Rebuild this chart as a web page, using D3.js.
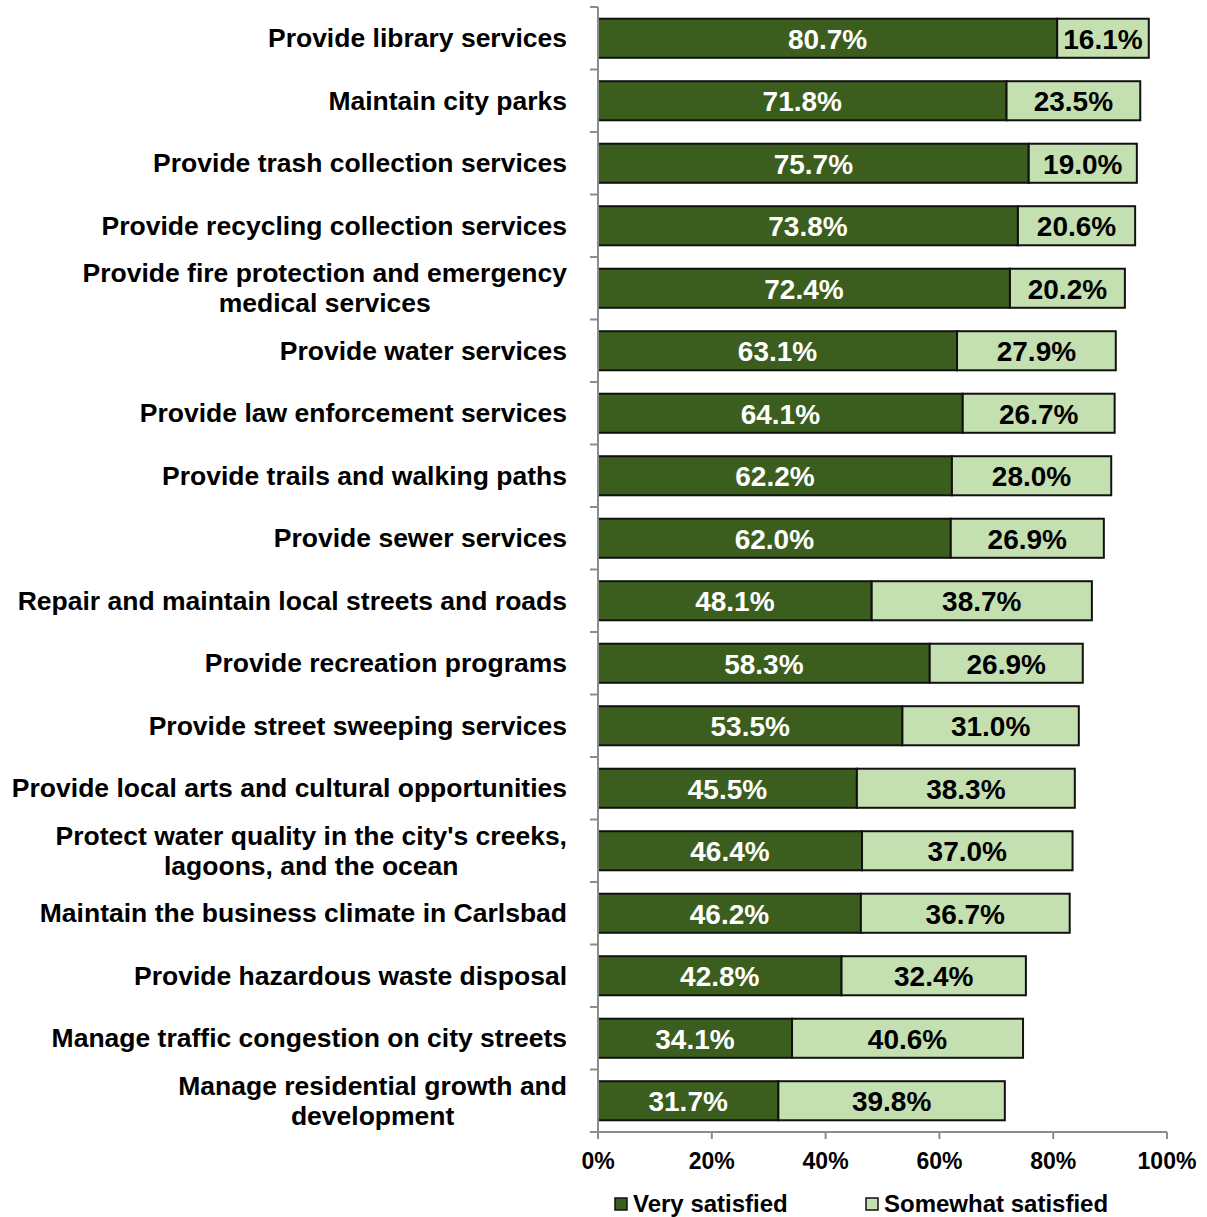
<!DOCTYPE html>
<html>
<head>
<meta charset="utf-8">
<script src="https://cdn.jsdelivr.net/npm/d3@7/dist/d3.min.js"></script>
<style>
  html, body { margin: 0; padding: 0; background: #fff; }
  svg { display: block; }
  text { font-family: "Liberation Sans", Arial, sans-serif; font-weight: bold; }
</style>
</head>
<body>
<svg id="chart" width="1207" height="1217"></svg>
<script>
// City services satisfaction, share of respondents
const categories = [
  "Provide library services",
  "Maintain city parks",
  "Provide trash collection services",
  "Provide recycling collection services",
  "Provide fire protection and emergency\nmedical services",
  "Provide water services",
  "Provide law enforcement services",
  "Provide trails and walking paths",
  "Provide sewer services",
  "Repair and maintain local streets and roads",
  "Provide recreation programs",
  "Provide street sweeping services",
  "Provide local arts and cultural opportunities",
  "Protect water quality in the city's creeks,\nlagoons, and the ocean",
  "Maintain the business climate in Carlsbad",
  "Provide hazardous waste disposal",
  "Manage traffic congestion on city streets",
  "Manage residential growth and\ndevelopment"
];
const verySatisfied = [80.7, 71.8, 75.7, 73.8, 72.4, 63.1, 64.1, 62.2, 62.0, 48.1, 58.3, 53.5, 45.5, 46.4, 46.2, 42.8, 34.1, 31.7];
const somewhatSatisfied = [16.1, 23.5, 19.0, 20.6, 20.2, 27.9, 26.7, 28.0, 26.9, 38.7, 26.9, 31.0, 38.3, 37.0, 36.7, 32.4, 40.6, 39.8];
const seriesNames = ["Very satisfied", "Somewhat satisfied"];
const xTicks = [0, 20, 40, 60, 80, 100];

const colors = ["#3b5e1e", "#c4dfb0"];
const labelColors = ["#ffffff", "#000000"];

const svg = d3.select("#chart");
const plot = { left: 598, right: 1167, top: 7, bottom: 1132 };

const x = d3.scaleLinear().domain([0, 100]).range([plot.left, plot.right]);
const y = d3.scaleBand().domain(categories)
  .range([plot.top, plot.bottom])
  .paddingInner(0.375).paddingOuter(0.1875);

function addText(g, tx, ty, str, size, anchor, fill) {
  return g.append("text")
    .attr("x", tx).attr("y", ty)
    .attr("text-anchor", anchor)
    .attr("dominant-baseline", "central")
    .attr("font-size", size)
    .attr("fill", fill)
    .text(str);
}

// stacked rows
const rows = categories.map((c, i) => {
  const v = [verySatisfied[i], somewhatSatisfied[i]];
  return { cat: c, segs: [
    { k: 0, x0: 0, x1: v[0], v: v[0] },
    { k: 1, x0: v[0], x1: v[0] + v[1], v: v[1] }
  ] };
});

const gBars = svg.append("g");
rows.forEach(r => {
  r.segs.forEach(s => {
    gBars.append("rect")
      .attr("x", x(s.x0))
      .attr("y", y(r.cat))
      .attr("width", x(s.x1) - x(s.x0))
      .attr("height", y.bandwidth())
      .attr("fill", colors[s.k])
      .attr("stroke", "#111")
      .attr("stroke-width", 2);
  });
  r.segs.forEach(s => {
    addText(gBars, (x(s.x0) + x(s.x1)) / 2, y(r.cat) + y.bandwidth() / 2 + 1,
      s.v.toFixed(1) + "%", 28, "middle", labelColors[s.k]);
  });
});

// y axis with boundary ticks
const axisColor = "#8c8c8c";
const gAxis = svg.append("g");
gAxis.append("line")
  .attr("x1", plot.left).attr("x2", plot.left)
  .attr("y1", plot.top).attr("y2", plot.bottom)
  .attr("stroke", axisColor).attr("stroke-width", 2);
const boundaries = categories.map(c => y(c) - y.step() * y.paddingInner() / 2)
  .concat([plot.bottom]);
boundaries.forEach(b => {
  gAxis.append("line")
    .attr("x1", plot.left - 8).attr("x2", plot.left)
    .attr("y1", b).attr("y2", b)
    .attr("stroke", axisColor).attr("stroke-width", 2);
});

// x axis
gAxis.append("line")
  .attr("x1", plot.left).attr("x2", plot.right)
  .attr("y1", plot.bottom).attr("y2", plot.bottom)
  .attr("stroke", axisColor).attr("stroke-width", 2);
xTicks.forEach(t => {
  gAxis.append("line")
    .attr("x1", x(t)).attr("x2", x(t))
    .attr("y1", plot.bottom).attr("y2", plot.bottom + 7)
    .attr("stroke", axisColor).attr("stroke-width", 2);
  addText(gAxis, x(t), 1161, t + "%", 23, "middle", "#000");
});

// category labels (multi-line labels centered on themselves, block right-aligned)
const gLabels = svg.append("g");
const labelRight = plot.left - 31;
const lineH = 30;
const labelSize = 26.5;
categories.forEach(c => {
  const lines = c.split("\n");
  const cy = y(c) + y.bandwidth() / 2;
  if (lines.length === 1) {
    addText(gLabels, labelRight, cy, lines[0], labelSize, "end", "#000");
  } else {
    // widest line sets the block width
    const tmp = addText(gLabels, 0, -100, lines[0], labelSize, "start", "#000");
    let w = 0;
    lines.forEach(l => { tmp.text(l); w = Math.max(w, tmp.node().getComputedTextLength()); });
    tmp.remove();
    const cx = labelRight - w / 2;
    lines.forEach((l, j) => {
      addText(gLabels, cx, cy + (j - (lines.length - 1) / 2) * lineH, l, labelSize, "middle", "#000");
    });
  }
});

// legend
const gLeg = svg.append("g");
const legX = [615, 866];
seriesNames.forEach((n, i) => {
  gLeg.append("rect")
    .attr("x", legX[i]).attr("y", 1198)
    .attr("width", 12).attr("height", 12)
    .attr("fill", colors[i]).attr("stroke", "#111").attr("stroke-width", 1.5);
  addText(gLeg, legX[i] + 18, 1203, n, 24, "start", "#000");
});
</script>
</body>
</html>
